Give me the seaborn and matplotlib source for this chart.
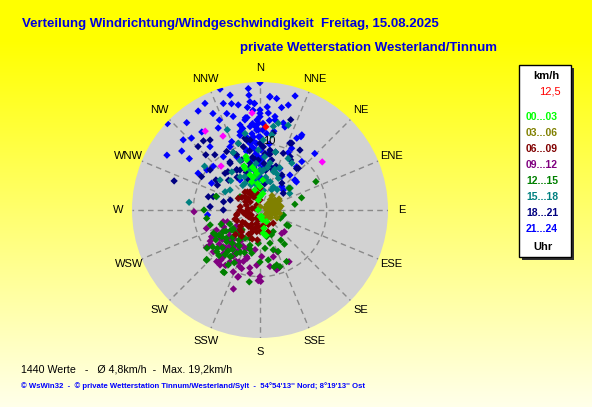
import numpy as np
import pandas as pd
import matplotlib
matplotlib.use('Agg')
import matplotlib.pyplot as plt
import seaborn as sns
from matplotlib.patches import Rectangle

# Windrichtung (Grad) und Windgeschwindigkeit (km/h), je Uhrzeit-Gruppe
dir_21_24 = [354.5, 341.7, 345.4, 354.5, 332.7, 341, 348.3, 354.7, 313, 320, 328, 334, 341, 335.7,
             344, 350.5, 0, 312.4, 316.4, 323.3, 307, 306, 300.5, 321.7, 333, 345.7, 300.7, 307,
             313, 325.5, 334.6, 336.4, 347.5, 354.8, 358.8, 353.2, 264.6, 299, 326.3, 352.9, 358,
             3.2, 0, 5, 8.5, 15.1, 11.9, 17.1, 4.9, 9.5, 15, 16.7, 29.1, 27.2, 44.1, 40.3, 40.6,
             25.6, 13, 357.6, 351.5, 43, 49.4, 52.4, 33.1, 26.3, 29.2,
             0, 5, 358, 3, 356, 2, 8, 354, 0, 5, 357, 2, 6, 352, 0, 4, 357, 10, 350, 8, 12, 347, 3,
             355, 358, 352, 0, 349, 356, 1, 353, 357, 350, 359, 354, 2, 348, 355, 358, 351, 0, 356,
             353, 357, 345, 5, 358, 352,
             346.8, 345, 337.5, 27.1, 24.2, 40.8, 49.4, 49.4, 9.1, 358.9, 2]
spd_21_24 = [18.3, 19.1, 17.8, 17.3, 18.0, 16.9, 16.1, 16.3, 19.0, 17.1, 17.5, 16.1, 15.3, 14.8,
             14.6, 13.7, 14.5, 15.6, 14.9, 14.6, 14.7, 13.1, 16.2, 12.1, 13.8, 12.1, 10.8, 10.0,
             9.6, 9.7, 10.5, 8.7, 9.2, 11.0, 12.0, 12.6, 7.9, 8.3, 5.4, 6.0, 8.0,
             4.5, 19.1, 17.1, 16.9, 16.3, 15.7, 17.9, 14.6, 13.7, 13.5, 13.0, 12.9, 10.4, 11.8, 8.5, 6.9,
             6.9, 6.7, 12.0, 10.1, 4.8, 6.9, 6.9, 6.0, 9.6, 12.6,
             5, 6.5, 7, 8, 9, 9.5, 10, 10.5, 11, 11.5, 12.5, 13, 13.5, 14, 15, 15.5, 16, 12, 11, 8.5, 7.5, 9, 6,
             4.5, 5.5, 6, 7, 7.5, 8.5, 9, 9.5, 10, 10.5, 11, 11.5, 12, 12.5, 13, 13.5, 14, 14, 15,
             15.5, 16, 16.5, 17, 5, 6.5,
             13.1, 11.6, 11.1, 12.1, 11.0, 9.6, 6.9, 4.6, 14.2, 13.0, 7.5]

dir_18_21 = [320.7, 315.7, 324.5, 330.3, 320.7, 288.7, 299.7, 284.4, 308.7, 304.3, 316.4, 327.3, 337,
             345.2, 349.2, 282.7, 333.4, 347.9, 285.9, 288.4, 18.8, 25.4, 41.4, 54.4, 31.5, 315.5,
             31.8, 13.2, 9.8, 351.9, 329.8, 313.4, 300.3, 273.8, 270, 24.2, 33.7, 42.6, 22.3, 31,
             9.5, 39.1, 29.4, 350, 10, 0, 355, 15, 5, 340, 20,
             330, 340, 345, 350, 355, 0, 5, 10, 335, 325, 320, 342, 352, 8, 15, 338, 328, 348, 358, 3]
spd_18_21 = [13.4, 13.3, 12.9, 10.1, 10.7, 13.6, 10.1, 8.0, 9.6, 8.0, 7.6, 8.3, 9.0,
             9.8, 10.7, 5.6, 6.7, 7.2, 7.3, 4.7, 14.3, 11.1, 8.3, 4.3, 8.8, 11.6,
             6.2, 7.7, 11.7, 10.6, 6.9, 6.5, 7.4, 7.5, 5.5, 11.0, 10.8, 8.5, 9.2, 5.8,
             9.1, 5.2, 9.2, 5, 4, 6, 7.5, 6.5, 8.5, 6, 7,
             7, 8, 6.5, 9, 5.5, 10, 7, 8.5, 9.5, 6, 7.5, 10.5, 8, 6, 9, 5, 8.5, 11, 7.5, 9.5]

dir_15_18 = [337.8, 348.9, 342, 276.2, 323.5, 329, 306.9, 303.7, 330.7, 354.3, 4.7, 346, 287.1,
             297.6, 18.4, 9.1, 8.9, 2.7, 28.7, 12.1, 19.2, 358.4, 54.1, 308.3, 11.9, 34.2, 52.5,
             60.9, 30, 350, 0, 10, 20, 345, 5, 15, 355, 25, 30, 340, 335,
             330, 340, 350, 0, 10, 20, 30, 345, 355, 5, 15, 25, 335, 325, 315, 40, 350, 0, 10, 338]
spd_15_18 = [13.0, 11.7, 10.5, 10.7, 7.1, 5.8, 7.5, 5.4, 4.6, 5.0, 6.0, 6.2, 6.8,
             5.9, 13.4, 12.7, 11.4, 10.5, 8.8, 7.2, 6.1, 9.0, 5.6, 10.6, 13.3, 8.5, 5.4,
             5.1, 5.5, 4, 5.5, 6.5, 4.5, 8, 8, 9, 3.5, 7, 3.5, 7, 9.5,
             3, 4, 5, 6, 5, 6.5, 4, 3, 7, 3, 4.5, 6, 5.5, 4.5, 6.2, 4, 2.5, 2, 3, 8]

dir_09_12 = [268.5, 251, 241.1, 234.6, 228.2, 220, 210.1, 203.4, 197.4, 197.9, 183.4, 180, 198,
             195.9, 211, 225, 228.2, 234.7, 245.2, 252.3, 197, 187.1, 198.6, 181.4, 189, 177.9,
             170, 164.4, 164.1, 161.5, 179.4, 198.3, 150.7, 131.8, 157.5, 235, 137,
             205, 215, 210, 220, 200, 225, 230, 212, 195, 218, 240, 208, 222, 202, 235, 190,
             225, 230, 215, 220, 235, 240, 210, 205, 228, 218, 232, 245, 212, 200, 222, 238, 226,
             214, 236, 206, 250, 216]
spd_09_12 = [9.9, 8.5, 8.3, 9.5, 9.4, 10.1, 9.0, 10.1, 9.2, 8.1, 8.3, 10.0, 10.5,
             7.3, 7.3, 7.8, 6.4, 7.3, 7.2, 5.8, 6.0, 6.0, 12.5, 10.6, 9.6, 7.0,
             8.6, 9.3, 7.3, 9.1, 10.7, 10.6, 8.9, 4.9, 6.8, 9.8, 4.8,
             6, 7, 8, 8.5, 9, 6.5, 8, 5.5, 7.5, 9.5, 8, 6.8, 7.7, 8.4, 9, 8.8,
             5, 6, 6.5, 7, 5.5, 6.5, 7.5, 8.5, 8, 9, 7.2, 6, 9.8, 6.2, 5.8, 8.8, 4.5,
             4.8, 4.2, 7, 5.2, 10.2]

dir_12_15 = [270, 261.1, 253.3, 243.5, 234.3, 226.8, 226.1, 210.7, 212.7, 208.3, 211.8, 226.4,
             239.4, 235.6, 188.5, 190.9, 182.9, 172.6, 163.3, 161.6, 156.3, 170.6, 180, 163.1,
             160.6, 155.1, 165.9, 207.9, 195.9, 209.7, 63.1, 73.6, 80.7, 53.5, 102.1, 111.9,
             119.3, 148.5, 145.4, 119, 144.4, 152.7, 166.1, 227.2, 238.6, 287.3, 303.6,
             215, 220, 205, 225, 230, 200, 218, 210, 235, 195, 222,
             225, 230, 215, 220, 235, 240, 210, 228, 218, 232, 245, 212, 200, 222, 238, 226, 214,
             236, 206, 250]
spd_12_15 = [8.4, 8.1, 7.8, 7.8, 9.8, 11.0, 9.0, 10.8, 8.3, 7.4, 6.2, 6.9,
             6.4, 4.9, 10.9, 6.6, 5.0, 5.8, 5.2, 6.3, 6.8, 7.6, 7.8, 8.6,
             9.0, 4.1, 4.1, 4.8, 5.5, 10.8, 9.4, 6.5, 5.3, 5.5, 3.6, 3.3,
             4.6, 3.8, 5.5, 4.9, 6.3, 8.7, 8.8, 10.9, 7.2, 6.9, 3.6,
             5.5, 6.5, 7, 8, 5, 4.5, 8.5, 9.5, 7, 6, 4,
             5.8, 6.6, 7.2, 4.8, 5.2, 7.6, 6.2, 8.6, 7.8, 9, 5, 8.2, 6.8, 9.2, 6, 4, 5,
             8, 8.8, 6.2]

dir_06_09 = [298.3, 311.6, 270, 309.7, 326.6, 236.2, 228.4, 204.4, 193.9, 99.6, 135, 220.1, 188.6,
             0, 331.4, 333.3, 0, 288.8, 108.3, 257.9, 201.8, 279.4, 325.2, 348.8, 185.8, 253.3,
             210, 240, 300, 320, 200, 260, 230, 190, 280, 340, 215, 250, 310, 195, 225,
             215, 235, 250, 265, 195, 180, 205, 225, 245, 275, 290, 305, 170, 160, 200, 220, 240,
             185, 260, 315, 330, 150]
spd_06_09 = [3.7, 3.0, 3.0, 1.9, 0.9, 1.8, 3.0, 3.0, 2.1, 1.5, 2.8, 4.3, 3.3,
             3.3, 3.1, 2.2, 1.5, 0.8, 1.6, 3.6, 3.8, 3.0, 3.3, 2.6, 2.5, 1.7,
             2.5, 2, 2.5, 3.5, 3.5, 2.5, 3.8, 1.5, 1.2, 2, 4.8, 4, 2.8, 4.5, 5.2,
             3, 3.2, 2.2, 2, 2.8, 3.2, 4, 4.2, 3.8, 1.8, 2.2, 3.3, 2.4, 3.5, 1.2, 1.8, 1.5,
             4.5, 3.5, 2.5, 2.8, 2.5]

dir_03_06 = [0, 53.3, 63.3, 84.2, 99.6, 135, 56.3, 73.3, 78.4, 141.1, 58, 152.9, 71.6,
             60, 70, 80, 90, 65, 75, 85, 50, 95, 105, 68, 88,
             45, 55, 65, 75, 85, 95, 105, 115, 125, 40, 60, 80, 100, 120, 70, 90, 110]
spd_03_06 = [0.5, 1.3, 2.2, 2.5, 1.5, 1.1, 2.7, 2.6, 1.3, 1.6, 2.4, 2.0, 2.4,
             1.8, 2.8, 1.9, 2.2, 3.1, 1.4, 2.9, 2.0, 1.6, 2.3, 2.5, 1.2,
             2.2, 1.5, 1.6, 2.2, 2.6, 2.6, 1.9, 2.8, 2.0, 2.8, 3.3, 3.2, 3.0, 1.4, 0.9, 1.0, 1.2]

dir_00_03 = [346, 270, 180, 168.7, 167, 171.9, 150.2, 344.1, 343.7, 345.1, 340.2, 354.9, 0,
             350.4, 165.8, 345.3, 352.9, 167.7, 166.5, 348, 355, 340, 0, 10, 350, 5]
spd_00_03 = [3.1, 0.3, 1.0, 3.8, 1.5, 3.5, 2.0, 5.5, 4.4, 7.8, 6.6, 5.5, 3.5,
             1.5, 1.0, 8.3, 6.0, 2.8, 3.9, 5, 4, 7, 2, 2.5, 6.5, 4.5]

# Einzelwerte (magenta) und aktueller Wert (rot)
dir_spitze = [355.3, 325.2, 333.4, 318.4, 52.3]
spd_spitze = [14.6, 14.4, 12.4, 8.8, 11.8]
dir_aktuell = [4]
spd_aktuell = [12.5]

hour_labels = ['00...03', '03...06', '06...09', '09...12', '12...15', '15...18', '18...21', '21...24']
hour_colors = ['#00ff00', '#808000', '#800000', '#800080', '#008000', '#008080', '#000080', '#0000ff']
compass = ['N', 'NNE', 'NE', 'ENE', 'E', 'ESE', 'SE', 'SSE',
           'S', 'SSW', 'SW', 'WSW', 'W', 'WNW', 'NW', 'NNW']
r_max = 19.2

# drawing order (later = on top)
series = [('21...24', dir_21_24, spd_21_24), ('18...21', dir_18_21, spd_18_21),
          ('15...18', dir_15_18, spd_15_18), ('09...12', dir_09_12, spd_09_12),
          ('12...15', dir_12_15, spd_12_15), ('06...09', dir_06_09, spd_06_09),
          ('03...06', dir_03_06, spd_03_06), ('00...03', dir_00_03, spd_00_03),
          ('spitze', dir_spitze, spd_spitze), ('aktuell', dir_aktuell, spd_aktuell)]
df = pd.concat([pd.DataFrame({'richtung': d, 'kmh': s, 'gruppe': g}) for g, d, s in series],
               ignore_index=True)
df['theta'] = np.deg2rad(df['richtung'])

palette = dict(zip(hour_labels, hour_colors))
palette['spitze'] = '#ff00ff'
palette['aktuell'] = '#ff0000'

plt.rcParams['font.family'] = ['Liberation Sans', 'DejaVu Sans']

W, H = 592, 407
fig = plt.figure(figsize=(W / 100, H / 100), dpi=100)


def fx(x):
    return x / W


def fy(y):
    return 1 - y / H


# yellow gradient background
bg = fig.add_axes([0, 0, 1, 1], zorder=0)
t = np.clip((np.arange(H) - 40) / (H - 40), 0, 1)
img = np.ones((H, 1, 3))
img[:, 0, 2] = 0.92 * t
bg.imshow(img, aspect='auto', extent=[0, 1, 0, 1])
bg.axis('off')

# polar plot
cx, cy, rad = 260, 210, 128
ax = fig.add_axes([fx(cx - rad), fy(cy + rad), 2 * rad / W, 2 * rad / H], projection='polar', zorder=1)
ax.set_theta_zero_location('N')
ax.set_theta_direction(-1)
ax.set_facecolor('#d2d2d2')
ax.set_axisbelow(True)

sns.scatterplot(data=df, x='theta', y='kmh', hue='gruppe', palette=palette, marker='D',
                s=14, linewidth=0, legend=False, ax=ax)

ax.set_ylim(0, r_max)
ax.set_xticks(np.deg2rad(np.arange(0, 360, 22.5)))
ax.set_xticklabels([])
ax.set_yticks([10])
ax.set_yticklabels([])
ax.grid(True, color='#8a8a8a', linestyle=(0, (4, 3)), linewidth=1)
ax.spines['polar'].set_visible(False)
ax.set_xlabel('')
ax.set_ylabel('')
ax.text(np.deg2rad(7.4), 10.4, '10', fontsize=8, ha='center', va='center')

for i, lab in enumerate(compass):
    ax.text(np.deg2rad(i * 22.5), r_max * 142 / 128, lab, fontsize=8, ha='center', va='center')

# titles
fig.text(fx(22), fy(24), 'Verteilung Windrichtung/Windgeschwindigkeit  Freitag, 15.08.2025',
         color='#0000dd', fontweight='bold', fontsize=9.5, ha='left', va='center')
fig.text(fx(240), fy(48), 'private Wetterstation Westerland/Tinnum',
         color='#0000dd', fontweight='bold', fontsize=9.5, ha='left', va='center')

# legend box
fig.add_artist(Rectangle((fx(522), fy(260)), 52 / W, 192 / H, transform=fig.transFigure,
                         facecolor='#303030', edgecolor='none', zorder=2))
fig.add_artist(Rectangle((fx(519), fy(257)), 52 / W, 192 / H, transform=fig.transFigure,
                         facecolor='white', edgecolor='black', linewidth=1, zorder=3))
fig.text(fx(546.5), fy(76), 'km/h', fontsize=8, fontweight='bold', ha='center', va='center', zorder=4)
fig.text(fx(550), fy(91), '12,5', fontsize=8, color='red', ha='center', va='center', zorder=4)
for i, (lab, col) in enumerate(zip(hour_labels, hour_colors)):
    fig.text(fx(526), fy(117.3 + i * 15.95), lab, fontsize=7.5, fontweight='bold', color=col,
             ha='left', va='center', zorder=4)
fig.text(fx(543.5), fy(247), 'Uhr', fontsize=8, fontweight='bold', ha='center', va='center', zorder=4)

# footer
fig.text(fx(21), fy(369), '1440 Werte   -   Ø 4,8km/h  -  Max. 19,2km/h', fontsize=7.7,
         ha='left', va='center')
fig.text(fx(21), fy(386), "© WsWin32  -  © private Wetterstation Tinnum/Westerland/Sylt  -  "
         "54°54'13'' Nord; 8°19'13'' Ost", fontsize=5.6, fontweight='bold', color='#0000ff',
         ha='left', va='center')

fig.savefig('out.png', dpi=100)
